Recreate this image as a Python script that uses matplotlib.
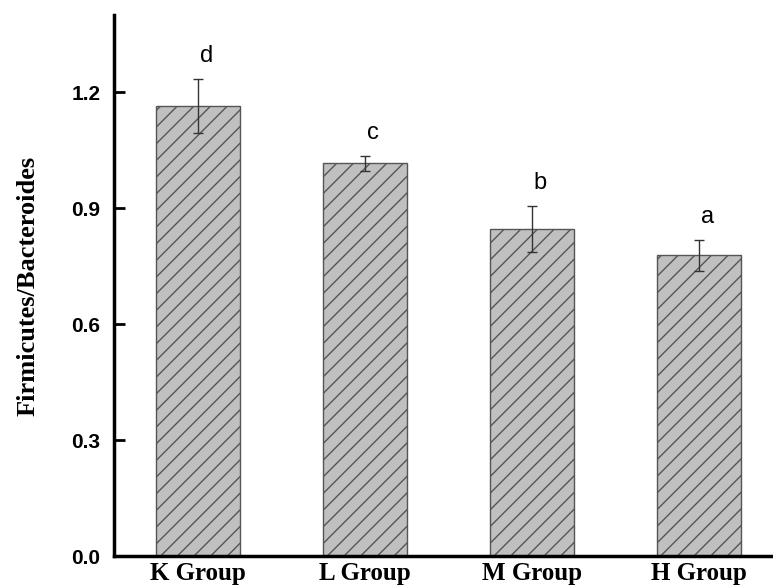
import matplotlib
matplotlib.use("Agg")
import matplotlib.pyplot as plt
import numpy as np

groups = ["K Group", "L Group", "M Group", "H Group"]
ratio = [1.165, 1.016, 0.846, 0.778]
err = [0.07, 0.02, 0.06, 0.04]
letters = ["d", "c", "b", "a"]

plt.rcParams["hatch.linewidth"] = 1.0
plt.rcParams["hatch.color"] = "#444444"

fig = plt.figure(figsize=(7.73, 5.88), dpi=100)
ax = fig.add_axes([0.148, 0.0544, 0.864, 0.920])

x = np.arange(len(groups))
ax.bar(x, ratio, width=0.5, color="#c0c0c0", edgecolor="#555555",
       linewidth=1.0, hatch="//")
ax.errorbar(x, ratio, yerr=err, fmt="none", ecolor="#333333",
            elinewidth=1.0, capsize=3.5, capthick=1.0)

for xi, v, e, lab in zip(x, ratio, err, letters):
    ax.text(xi + 0.05, v + e + 0.03, lab, ha="center", va="bottom",
            fontsize=17, family="Liberation Sans")

ax.set_xlim(-0.5, 3.5)
ax.set_ylim(0, 1.4)
ax.set_yticks([0.0, 0.3, 0.6, 0.9, 1.2])
ax.set_yticklabels(["0.0", "0.3", "0.6", "0.9", "1.2"],
                   fontsize=15, fontweight="bold", family="Liberation Sans")
ax.set_xticks(x)
ax.set_xticklabels(groups, fontsize=18, fontweight="bold",
                   family="Liberation Serif")
ax.tick_params(axis="y", direction="in", length=8, width=2, pad=10)
ax.tick_params(axis="x", length=0, pad=4)
ax.set_ylabel("Firmicutes/Bacteroides", fontsize=19, fontweight="bold",
              family="Liberation Serif", labelpad=23)

for s in ["top", "right"]:
    ax.spines[s].set_visible(False)
for s in ["left", "bottom"]:
    ax.spines[s].set_linewidth(2.5)

fig.savefig("out.png", dpi=100)
